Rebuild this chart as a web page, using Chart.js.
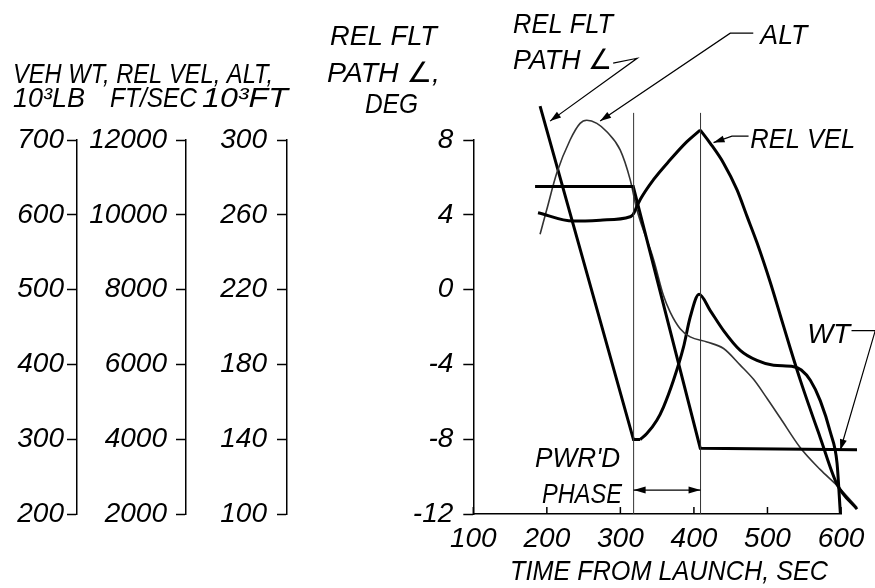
<!DOCTYPE html>
<html><head><meta charset="utf-8">
<script src="https://cdn.jsdelivr.net/npm/chart.js@4/dist/chart.umd.min.js"></script>
<style>html,body{margin:0;padding:0;background:#fff;}canvas{display:block;}</style>
</head><body>
<canvas id="c" width="875" height="588"></canvas>
<script>
// ---------------- DATA ----------------
// x axis: time from launch, sec
const xTickValues = [100, 200, 300, 400, 500, 600];
// tick values of the four vertical scales
const wtTicks  = [200, 300, 400, 500, 600, 700];
const velTicks = [2000, 4000, 6000, 8000, 10000, 12000];
const altTicks = [100, 140, 180, 220, 260, 300];
const angTicks = [-12, -8, -4, 0, 4, 8];

// Vehicle weight, 10^3 lb
const wtTime  = [184, 317.5, 408.6, 621.8];
const wtValue = [638, 638, 288, 286];

// Relative velocity, ft/sec (coast, powered rise, descent)
const velTime1  = [188, 235.7, 272.5, 313.3, 317.5];
const velValue1 = [10054, 9831, 9857, 9948, 10009];
const velTime2  = [317.5, 327, 345, 367.7, 390.5, 408.6];
const velValue2 = [10009, 10407, 10938, 11469, 11955, 12266];
const velTime3  = [408.6, 422.2, 440.3, 458.5, 472.1, 485.7, 503.8, 517.5, 531.1, 545, 571.9, 594.6, 621.8];
const velValue3 = [12266, 11912, 11381, 10672, 9964, 9257, 8195, 7309, 6425, 5560, 4035, 2795, 2131];

// Altitude, 10^3 ft
const altTime  = [190.8, 199.9, 213.5, 231.6, 245.2, 254.3, 268, 281.6, 299.7, 313.3, 322.4, 345, 358.6, 367.7, 381.3, 394.9, 417.7, 440.3, 463, 481.1, 499.3, 517.5, 544.7, 571.9, 594.6, 621.8];
const altValue = [249.6, 262.8, 282.3, 300, 308.9, 310.6, 308.9, 304.4, 294.7, 278.8, 262.8, 236.3, 216.8, 208, 199.1, 194.7, 192, 188.5, 179.6, 172, 161.9, 151.3, 135.4, 123.7, 115.2, 103.5];

// Relative flight path angle, deg
const fpaTime1  = [190.8, 317.8, 326.9];
const fpaValue1 = [9.81, -8.02, -8.02];
const fpaTime2  = [326.9, 336.0, 349.6, 358.6, 372.2, 385.8, 394.9, 407, 422.2, 440.3, 463, 485.7, 508.3, 535.6, 546, 558.3, 571.9, 585.9, 594.6, 599.1];
const fpaValue2 = [-8.02, -7.70, -6.99, -6.28, -4.85, -3.08, -1.48, -0.25, -1.12, -2.19, -3.25, -3.79, -4.05, -4.12, -4.3, -4.85, -5.95, -7.68, -9.28, -11.95];

// Powered phase boundaries, sec
const burnStart = 318;
const burnEnd   = 409;
const burnLineTop = 9.45;  // deg, top of the boundary lines

// ---------------- TEXT ----------------
const FONT = '"Liberation Sans", "DejaVu Sans", sans-serif';
const titleLines = [
  {text: 'VEH WT, REL VEL, ALT,', x: 13,  y: 83,  w: 260},
  {text: '10\u00B3LB',            x: 13,  y: 107, w: 72},
  {text: 'FT/SEC',                x: 110, y: 107, w: 87},
  {text: '10\u00B3FT',            x: 202, y: 107, w: 86},
  {text: 'REL FLT',               x: 330, y: 45,  w: 107},
  {text: 'PATH \u2220,',          x: 327, y: 82,  w: 113},
  {text: 'DEG',                   x: 365, y: 113, w: 53},
  {text: 'TIME FROM LAUNCH, SEC', x: 510, y: 580, w: 318}
];
// labels placed in data space (time, deg)
const noteLabels = [
  {text: 'REL FLT', t: 154,   v: 13.71,  w: 100},
  {text: 'PATH \u2220', t: 154, v: 11.79, w: 99},
  {text: 'ALT',     t: 490.3, v: 13.12,  w: 47},
  {text: 'REL VEL', t: 476.6, v: 7.57,   w: 105},
  {text: 'WT',      t: 554,   v: -2.83,  w: 43},
  {text: "PWR'D",   t: 184,   v: -9.49,  w: 85},
  {text: 'PHASE',   t: 193.5, v: -11.41, w: 80}
];
const leaders = [
  [[290.2, 12.11], [322.8, 12.37], [204.4, 9.01]],
  [[480.7, 13.71], [449.4, 13.71], [272.5, 9.01]],
  [[474.3, 8.21],  [451.7, 8.21],  [426.7, 7.86]],
  [[614.3, -2.19], [646.6, -2.19], [599.0, -8.59]]
];
const phaseArrowDeg = -10.72;

// ---------------- HELPERS ----------------
const pts = (ts, vs) => ts.map((t, i) => ({x: t, y: vs[i]}));
function fitText(ctx, s, x, y, w, size) {
  ctx.save();
  ctx.font = 'italic ' + size + 'px ' + FONT;
  const m = ctx.measureText(s).width;
  ctx.translate(x, y);
  ctx.scale(w / m, 1);
  ctx.fillStyle = '#000';
  ctx.textBaseline = 'alphabetic';
  ctx.textAlign = 'left';
  ctx.fillText(s, 0, 0);
  ctx.restore();
}
function arrowHead(ctx, x1, y1, x2, y2, len, half) {
  const a = Math.atan2(y2 - y1, x2 - x1);
  ctx.beginPath();
  ctx.moveTo(x2, y2);
  ctx.lineTo(x2 - len * Math.cos(a) + half * Math.sin(a), y2 - len * Math.sin(a) - half * Math.cos(a));
  ctx.lineTo(x2 - len * Math.cos(a) - half * Math.sin(a), y2 - len * Math.sin(a) + half * Math.cos(a));
  ctx.closePath();
  ctx.fill();
}

const deco = {
  id: 'deco',
  afterDraw(chart) {
    const ctx = chart.ctx;
    const xs = chart.scales.x, ys = chart.scales.yAng;
    const P = (t, v) => [xs.getPixelForValue(t), ys.getPixelForValue(v)];
    ctx.save();
    ctx.strokeStyle = '#000';
    ctx.fillStyle = '#000';
    // inward tick marks on time axis
    ctx.lineWidth = 1.5;
    xTickValues.forEach(t => {
      const x = xs.getPixelForValue(t);
      ctx.beginPath(); ctx.moveTo(x, xs.top); ctx.lineTo(x, xs.top - 7); ctx.stroke();
    });
    // titles
    titleLines.forEach(l => fitText(ctx, l.text, l.x, l.y, l.w, 28));
    // labels
    noteLabels.forEach(n => { const p = P(n.t, n.v); fitText(ctx, n.text, p[0], p[1], n.w, 28); });
    // leader lines
    ctx.lineWidth = 1.2;
    leaders.forEach(L => {
      const q = L.map(a => P(a[0], a[1]));
      ctx.beginPath(); ctx.moveTo(q[0][0], q[0][1]);
      for (let i = 1; i < q.length; i++) ctx.lineTo(q[i][0], q[i][1]);
      ctx.stroke();
      const a = q[q.length - 2], b = q[q.length - 1];
      arrowHead(ctx, a[0], a[1], b[0], b[1], 11, 3.5);
    });
    // powered phase arrow
    const s = P(burnStart, phaseArrowDeg), e = P(burnEnd, phaseArrowDeg);
    ctx.beginPath(); ctx.moveTo(s[0], s[1]); ctx.lineTo(e[0], e[1]); ctx.stroke();
    arrowHead(ctx, e[0], e[1], s[0], s[1], 12, 3.5);
    arrowHead(ctx, s[0], s[1], e[0], e[1], 12, 3.5);
    ctx.restore();
  }
};

// ---------------- CHART ----------------
const tickFont = {family: FONT, size: 28, style: 'italic'};
function yAxis(weight, width, ticksArr, pad) {
  return {
    position: 'left', weight: weight,
    min: ticksArr[0], max: ticksArr[ticksArr.length - 1],
    afterBuildTicks: s => { s.ticks = ticksArr.map(v => ({value: v})); },
    afterFit: s => { s.width = width; },
    ticks: {font: tickFont, color: '#000', padding: pad, callback: v => String(v)},
    grid: {drawOnChartArea: false, drawTicks: true, tickLength: 10, tickColor: '#000', tickWidth: 1.5},
    border: {display: true, color: '#000', width: 1.5}
  };
}
const thick = {borderColor: '#000', borderWidth: 3, pointRadius: 0, fill: false, clip: false};

new Chart(document.getElementById('c'), {
  type: 'line',
  data: {
    datasets: [
      Object.assign({data: pts([burnStart, burnStart], [angTicks[0], burnLineTop]), yAxisID: 'yAng'}, thick, {borderWidth: 1, borderColor: '#333'}),
      Object.assign({data: pts([burnEnd, burnEnd], [angTicks[0], burnLineTop]), yAxisID: 'yAng'}, thick, {borderWidth: 1, borderColor: '#333'}),
      Object.assign({data: pts(wtTime, wtValue), yAxisID: 'yWt', tension: 0}, thick),
      Object.assign({data: pts(velTime1, velValue1), yAxisID: 'yVel', cubicInterpolationMode: 'monotone'}, thick),
      Object.assign({data: pts(velTime2, velValue2), yAxisID: 'yVel', cubicInterpolationMode: 'monotone'}, thick),
      Object.assign({data: pts(velTime3, velValue3), yAxisID: 'yVel', cubicInterpolationMode: 'monotone'}, thick),
      Object.assign({data: pts(altTime, altValue), yAxisID: 'yAlt', cubicInterpolationMode: 'monotone'}, thick, {borderWidth: 1.6, borderColor: '#333'}),
      Object.assign({data: pts(fpaTime1, fpaValue1), yAxisID: 'yAng', tension: 0}, thick),
      Object.assign({data: pts(fpaTime2, fpaValue2), yAxisID: 'yAng', cubicInterpolationMode: 'monotone'}, thick)
    ]
  },
  options: {
    responsive: false,
    animation: false,
    devicePixelRatio: 1,
    layout: {padding: {left: 0, top: 140, right: 34, bottom: 0}},
    plugins: {legend: {display: false}, tooltip: {enabled: false}},
    elements: {point: {radius: 0}},
    scales: {
      x: {
        type: 'linear', position: 'bottom',
        min: xTickValues[0], max: xTickValues[xTickValues.length - 1],
        afterBuildTicks: s => { s.ticks = xTickValues.map(v => ({value: v})); },
        afterFit: s => { s.height = 74; },
        ticks: {font: tickFont, color: '#000', padding: 8, maxRotation: 0, callback: v => String(v)},
        grid: {drawOnChartArea: false, drawTicks: false},
        border: {display: true, color: '#000', width: 1.5}
      },
      yWt:  yAxis(3, 77, wtTicks, 3),
      yVel: yAxis(2, 109, velTicks, 9),
      yAlt: yAxis(1, 101, altTicks, 10),
      yAng: yAxis(0, 186.3, angTicks, 10)
    }
  },
  plugins: [deco]
});
</script>
</body></html>
